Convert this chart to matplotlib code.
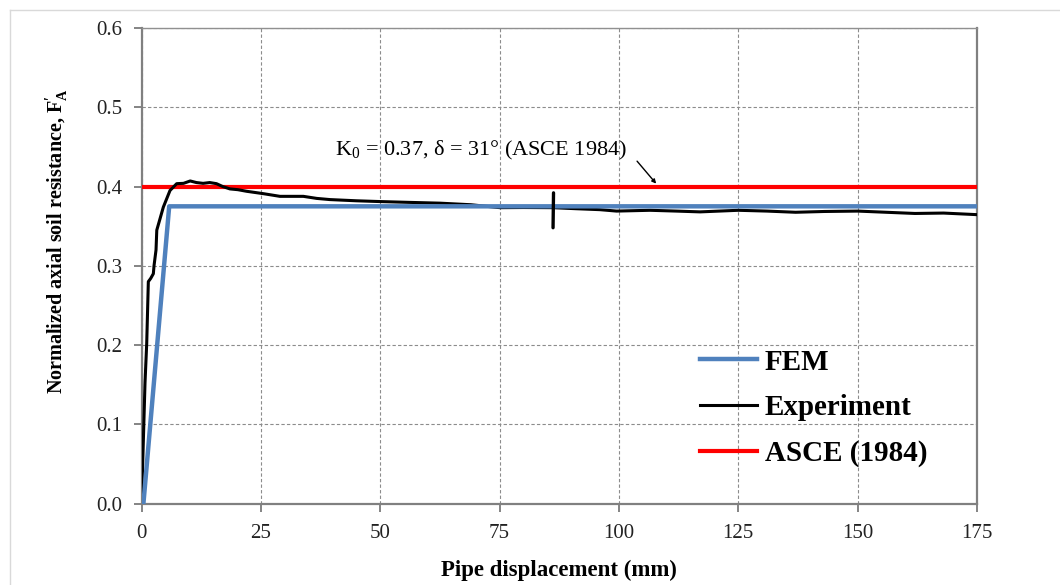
import matplotlib
matplotlib.use('Agg')
import matplotlib.pyplot as plt
from matplotlib.lines import Line2D

plt.rcParams['font.family'] = ['Liberation Serif', 'DejaVu Serif']
plt.rcParams['mathtext.fontset'] = 'custom'
plt.rcParams['mathtext.rm'] = 'Liberation Serif'
plt.rcParams['mathtext.it'] = 'Liberation Serif:italic'
plt.rcParams['mathtext.bf'] = 'Liberation Serif:bold'

# ---- data ----
exp_x = [0, 0.25, 0.73, 1.09, 1.43, 1.92, 2.48, 2.62, 3.04, 3.2, 4.57, 5.97, 7.37,
         8.8, 10.2, 11.5, 12.9, 14.3, 15.7, 17.0, 18.5, 20.2, 22.0, 25.5, 29.0,
         33.9, 36.7, 39.5, 45, 50, 56, 62.5, 69, 75.1, 80, 86.2, 91, 96.0, 99.5,
         106.5, 112, 117, 125, 131, 137, 143, 150, 156, 162, 168, 175]
exp_y = [0, 0.051, 0.152, 0.202, 0.280, 0.284, 0.290, 0.300, 0.320, 0.345, 0.374,
         0.395, 0.4036, 0.404, 0.407, 0.405, 0.404, 0.405, 0.4036, 0.400, 0.397,
         0.396, 0.394, 0.391, 0.3876, 0.3876, 0.385, 0.3835, 0.382, 0.381, 0.380,
         0.379, 0.377, 0.3733, 0.3735, 0.3733, 0.372, 0.3708, 0.369, 0.370,
         0.369, 0.368, 0.370, 0.369, 0.3675, 0.3685, 0.369, 0.3675, 0.366, 0.3665,
         0.3645]

fem_x = [0.4, 5.8, 175]
fem_y = [0.0, 0.375, 0.375]

asce_x = [0, 175]
asce_y = [0.4, 0.4]

break_x = [86.2, 86.3]
break_y = [0.348, 0.392]

annot_text = r'K$_0$ = 0.37, δ = 31° (ASCE 1984)'
annot_xy = (71.1, 0.445)
arrow_start = (103.8, 0.432)
arrow_end = (107.8, 0.4036)

x_ticks = [0, 25, 50, 75, 100, 125, 150, 175]
y_ticks = [0.0, 0.1, 0.2, 0.3, 0.4, 0.5, 0.6]

fig = plt.figure(figsize=(10.6, 5.85), dpi=100)
ax = fig.add_axes([0.1335, 0.1393, 0.7882, 0.8128])

ax.plot(asce_x, asce_y, color='#ff0000', lw=3.0, solid_capstyle='butt', zorder=3)
ax.plot(exp_x, exp_y, color='black', lw=2.2, zorder=4)
ax.plot(fem_x, fem_y, color='#4f81bd', lw=3.2, zorder=5)
ax.plot(break_x, break_y, color='black', lw=2.4, solid_capstyle='round', zorder=6)

ax.text(annot_xy[0], annot_xy[1], annot_text, fontsize=16, ha='center', va='center', zorder=7)
ax.annotate('', xy=arrow_end, xytext=arrow_start,
            arrowprops=dict(arrowstyle='-|>', color='black', lw=1.0,
                            mutation_scale=6, shrinkA=0, shrinkB=0), zorder=7)

ax.set_xlim(0, 175)
ax.set_ylim(0, 0.6)
ax.set_xticks(x_ticks)
ax.set_yticks(y_ticks)
ax.set_xticklabels([str(v) for v in x_ticks])
ax.set_yticklabels([f'{v:.1f}' for v in y_ticks])
ax.tick_params(axis='both', direction='out', length=6, width=1.2, color='#707070',
               labelsize=15, labelcolor='#222222')
ax.tick_params(axis='x', pad=9)
ax.tick_params(axis='y', pad=8)

ax.grid(True, color='#8c8c8c', lw=0.8, linestyle=(0, (3, 2)))
ax.set_axisbelow(True)

for side in ['left', 'bottom', 'right']:
    ax.spines[side].set_color('#808080')
    ax.spines[side].set_linewidth(1.6)
ax.spines['top'].set_color('#909090')
ax.spines['top'].set_linewidth(1.0)

ax.set_xlabel('Pipe displacement (mm)', fontsize=16.5, fontweight='bold')
ax.xaxis.set_label_coords(0.5, -0.118)
ax.set_ylabel(r"Normalized axial soil resistance, $\mathbf{F}_{\mathbf{A}}^{\mathbf{\prime}}$",
              fontsize=14.5, fontweight='bold')
ax.yaxis.set_label_coords(-0.086, 0.552)

handles = [Line2D([0], [0], color='#4f81bd', lw=3.2),
           Line2D([0], [0], color='black', lw=2.2),
           Line2D([0], [0], color='#ff0000', lw=3.0)]
ax.legend(handles, ['FEM', 'Experiment', 'ASCE (1984)'], loc='upper left',
          bbox_to_anchor=(0.669, 0.326), frameon=False, borderpad=0, borderaxespad=0,
          handlelength=1.95, handletextpad=0.25, labelspacing=0.64,
          prop={'family': 'Liberation Serif', 'weight': 'bold', 'size': 21})

# thin outer frame of the original picture
fig.add_artist(Line2D([0.0094, 1.0], [0.983, 0.983], transform=fig.transFigure,
                      color='#d9d9d9', lw=1.0))
fig.add_artist(Line2D([0.0094, 0.0094], [0.0, 0.983], transform=fig.transFigure,
                      color='#d9d9d9', lw=1.0))

fig.savefig('out.png', dpi=100)
